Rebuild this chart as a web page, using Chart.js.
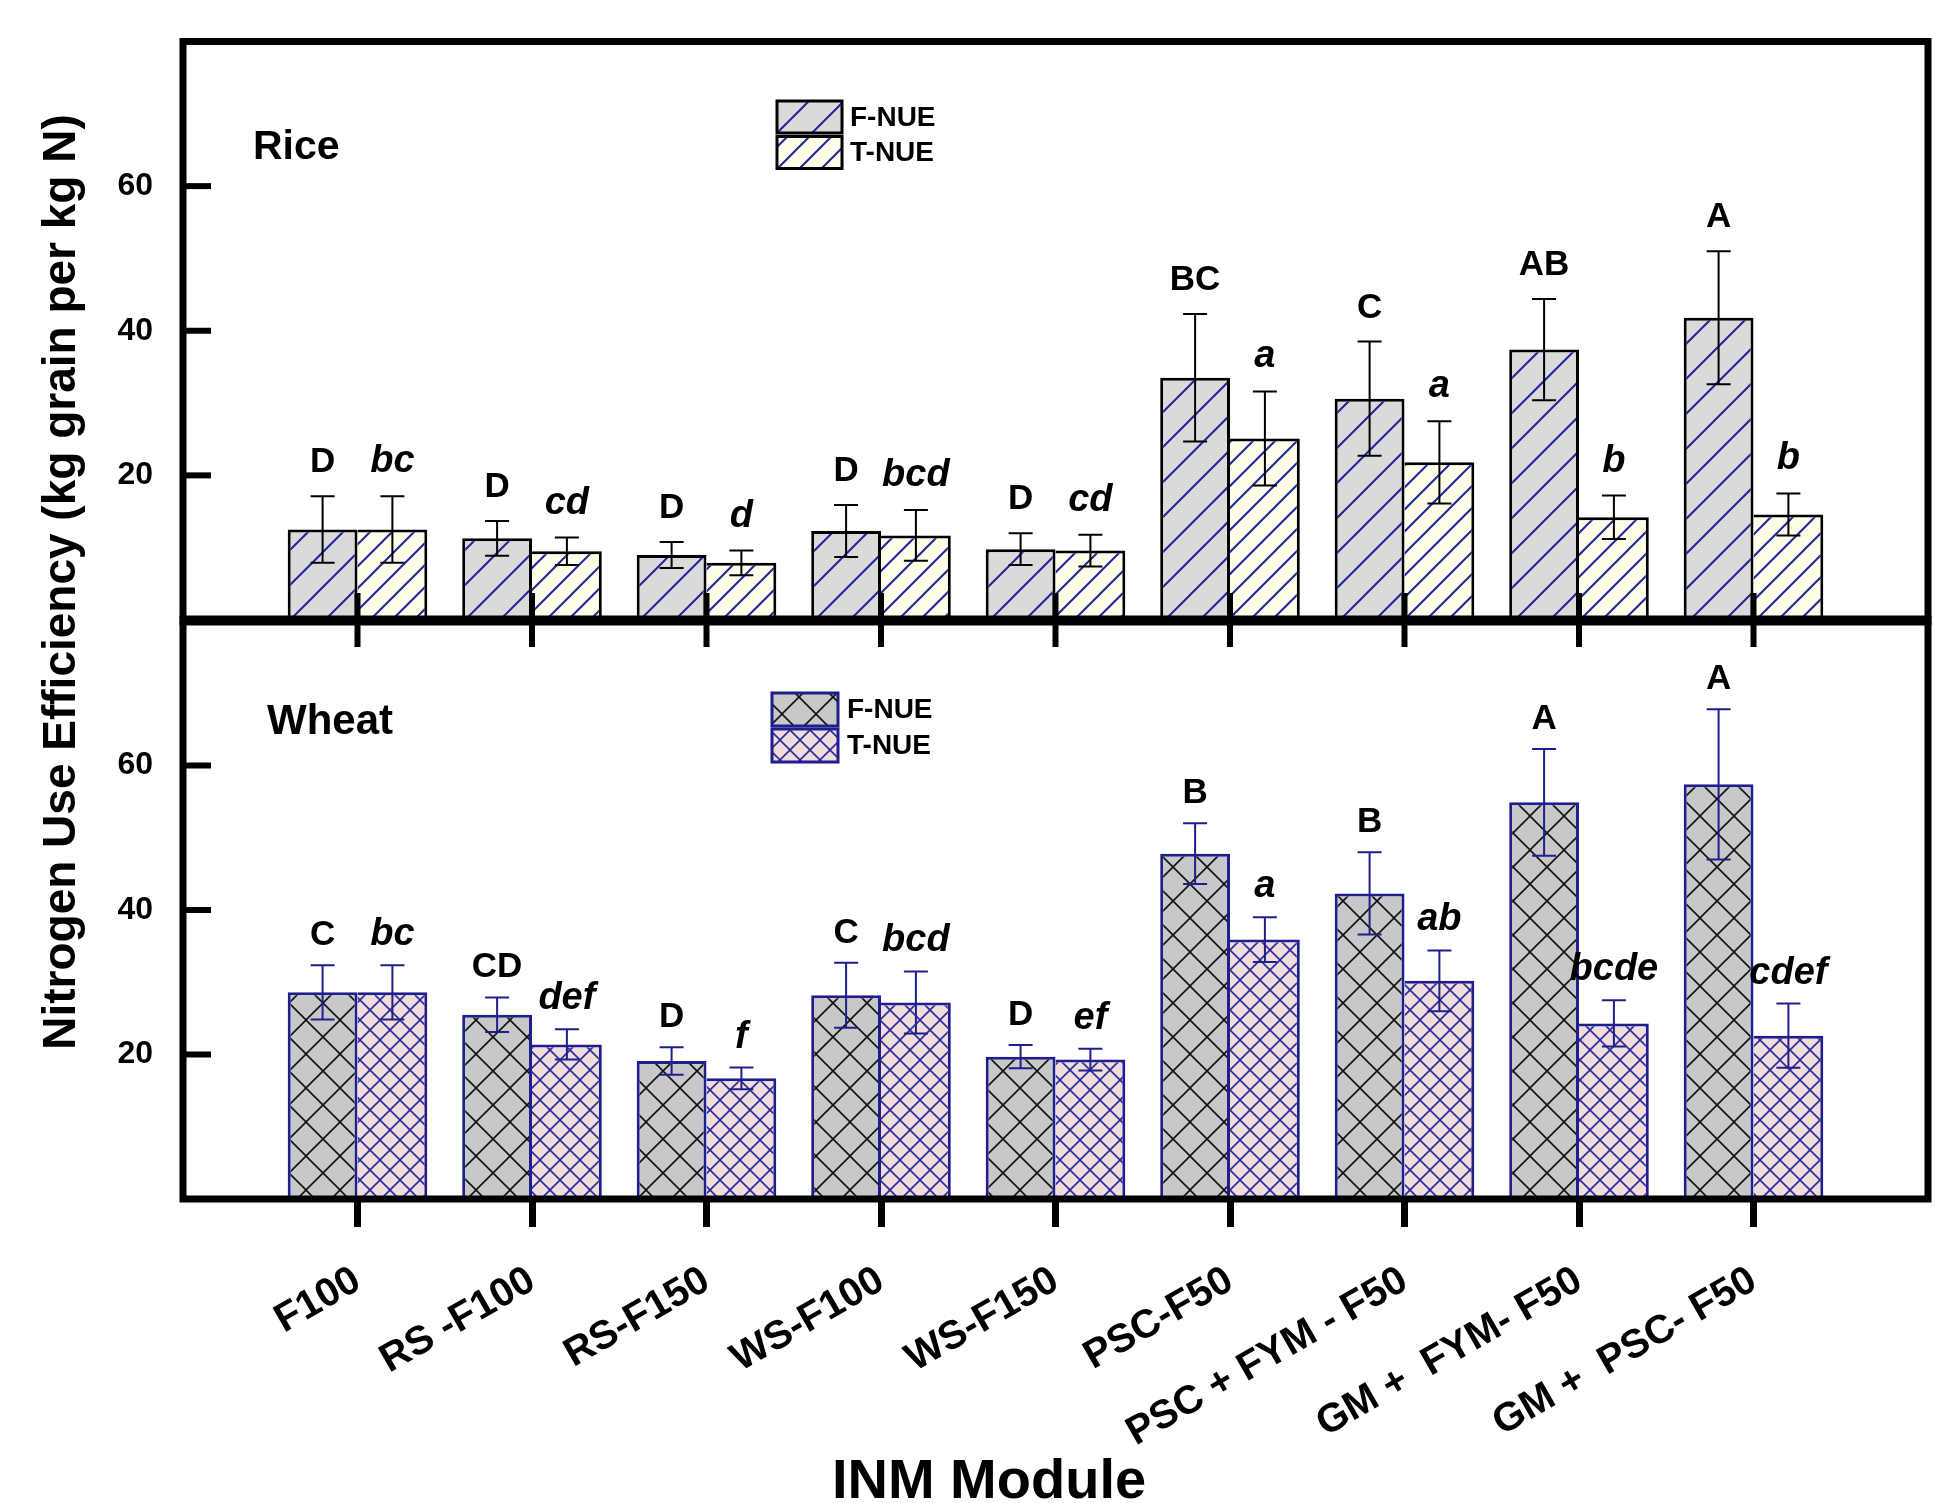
<!DOCTYPE html>
<html><head><meta charset="utf-8">
<script src="https://cdn.jsdelivr.net/npm/chart.js@4.4.1/dist/chart.umd.min.js"></script>
<style>
html,body{margin:0;padding:0;background:#fff;}
#wrap{position:relative;width:1953px;height:1503px;background:#fff;}
canvas{position:absolute;left:0;top:0;}
</style></head><body>
<div id="wrap"><canvas id="cw" width="1953" height="1503"></canvas><canvas id="cr" width="1953" height="1503"></canvas></div>
<script>
// ---------- DATA ----------
const categories = ['F100', 'RS -F100', 'RS-F150', 'WS-F100', 'WS-F150', 'PSC-F50', 'PSC + FYM - F50', 'GM +  FYM- F50', 'GM +  PSC- F50'];
const seriesNames = ['F-NUE', 'T-NUE'];
const yTickValues = [20, 40, 60];

const riceFNUE    = [12.5, 11.3, 9.0, 12.3, 9.8, 33.5, 30.6, 37.4, 41.8];
const riceFNUEErr = [4.6, 2.4, 1.8, 3.6, 2.2, 8.8, 7.9, 7.0, 9.2];
const riceTNUE    = [12.5, 9.5, 7.9, 11.7, 9.6, 25.1, 21.8, 14.2, 14.6];
const riceTNUEErr = [4.6, 1.9, 1.7, 3.5, 2.2, 6.5, 5.7, 3.0, 2.9];
const riceFLetters = ['D', 'D', 'D', 'D', 'D', 'BC', 'C', 'AB', 'A'];
const riceTLetters = ['bc', 'cd', 'd', 'bcd', 'cd', 'a', 'a', 'b', 'b'];

const wheatFNUE    = [28.6, 25.5, 19.1, 28.2, 19.7, 47.8, 42.3, 54.9, 57.4];
const wheatFNUEErr = [3.75, 2.4, 1.9, 4.5, 1.6, 4.2, 5.7, 7.4, 10.4];
const wheatTNUE    = [28.6, 21.4, 16.7, 27.2, 19.3, 35.9, 30.2, 24.3, 22.6];
const wheatTNUEErr = [3.75, 2.1, 1.5, 4.3, 1.5, 3.1, 4.2, 3.2, 4.45];
const wheatFLetters = ['C', 'CD', 'D', 'C', 'D', 'B', 'B', 'A', 'A'];
const wheatTLetters = ['bc', 'def', 'f', 'bcd', 'ef', 'a', 'ab', 'bcde', 'cdef'];

// ---------- helpers ----------
const FONT = '"Liberation Sans", Arial, Helvetica, sans-serif';
const NAVY = '#1e1e8e';
const padL = arr => ['', ...arr, ''];
const padV = arr => [null, ...arr, null];

function hatch(bg, line, p, lw, cross) {
  const c = document.createElement('canvas'); c.width = p; c.height = p;
  const g = c.getContext('2d');
  g.fillStyle = bg; g.fillRect(0, 0, p, p);
  g.strokeStyle = line; g.lineWidth = lw;
  const seg = (x1, y1, x2, y2) => { g.beginPath(); g.moveTo(x1, y1); g.lineTo(x2, y2); g.stroke(); };
  seg(-3, p + 3, p + 3, -3); seg(-3, 3, 3, -3); seg(p - 3, p + 3, p + 3, p - 3);
  if (cross) { seg(-3, -3, p + 3, p + 3); seg(p - 3, -3, p + 3, 3); seg(-3, p - 3, 3, p + 3); }
  return g.createPattern(c, 'repeat');
}
const riceFPat = hatch('#dadada', '#22229a', 35, 2, false);
const riceTPat = hatch('#fdfde8', '#22229a', 22, 2, false);
const wheatFPat = hatch('#c8c8c8', '#111111', 34, 1.6, true);
const wheatTPat = hatch('#f0dcdc', '#2a2a9a', 20, 1.6, true);

const nuePlugin = {
  id: 'nue',
  afterDatasetsDraw(chart) {
    const cfg = chart.options.plugins.nue;
    const ctx = chart.ctx, y = chart.scales.y;
    ctx.save();
    cfg.series.forEach((s, di) => {
      const meta = chart.getDatasetMeta(di);
      s.values.forEach((v, i) => {
        const bar = meta.data[i + 1];
        const x = bar.x, e = s.errors[i];
        const yt = y.getPixelForValue(v + e), yb = y.getPixelForValue(v - e);
        ctx.strokeStyle = cfg.errColor; ctx.lineWidth = 2;
        ctx.beginPath();
        ctx.moveTo(x, yt); ctx.lineTo(x, yb);
        ctx.moveTo(x - 12, yt); ctx.lineTo(x + 12, yt);
        ctx.moveTo(x - 12, yb); ctx.lineTo(x + 12, yb);
        ctx.stroke();
        const lab = s.letters[i];
        const lower = lab === lab.toLowerCase();
        ctx.fillStyle = '#000';
        ctx.font = (lower ? 'italic bold ' + cfg.lowerFont : 'bold ' + cfg.upperFont) + 'px ' + FONT;
        ctx.textAlign = 'center'; ctx.textBaseline = 'alphabetic';
        ctx.fillText(lab, x, yt - cfg.gap);
      });
    });
    ctx.restore();
  },
  afterDraw(chart) {
    const cfg = chart.options.plugins.nue;
    const ctx = chart.ctx, a = chart.chartArea, y = chart.scales.y, xs = chart.scales.x;
    ctx.save();
    ctx.strokeStyle = '#000';
    ctx.lineWidth = 7; ctx.lineJoin = 'miter';
    if (cfg.frame === 'top') {
      ctx.beginPath();
      ctx.moveTo(a.left, a.bottom); ctx.lineTo(a.left, a.top); ctx.lineTo(a.right, a.top); ctx.lineTo(a.right, a.bottom);
      ctx.stroke();
      ctx.lineWidth = 10;
      ctx.beginPath(); ctx.moveTo(a.left - 3.5, a.bottom + 0.5); ctx.lineTo(a.right + 3.5, a.bottom + 0.5); ctx.stroke();
      ctx.lineWidth = 6;
      for (let i = 1; i <= categories.length; i++) {
        const px = xs.getPixelForValue(i);
        ctx.beginPath(); ctx.moveTo(px, a.bottom - 27); ctx.lineTo(px, a.bottom + 27); ctx.stroke();
      }
    } else {
      ctx.beginPath();
      ctx.moveTo(a.left, a.top); ctx.lineTo(a.left, a.bottom); ctx.lineTo(a.right, a.bottom); ctx.lineTo(a.right, a.top);
      ctx.stroke();
    }
    ctx.lineWidth = 6;
    yTickValues.forEach(v => {
      const py = y.getPixelForValue(v);
      ctx.beginPath(); ctx.moveTo(a.left, py); ctx.lineTo(a.left + 28, py); ctx.stroke();
    });
    ctx.fillStyle = '#000'; ctx.textAlign = 'left'; ctx.textBaseline = 'alphabetic';
    ctx.font = 'bold ' + cfg.panelFont + 'px ' + FONT;
    ctx.fillText(cfg.panel, cfg.panelPos[0], cfg.panelPos[1]);
    const [lx, ly] = cfg.legendPos, [bw, bh] = cfg.legendBox;
    chart.data.datasets.forEach((ds, i) => {
      const by = ly + i * (bh + cfg.legendGap);
      ctx.fillStyle = ds.backgroundColor; ctx.fillRect(lx, by, bw, bh);
      ctx.lineWidth = 3; ctx.strokeStyle = cfg.legendBorder; ctx.strokeRect(lx, by, bw, bh);
      ctx.fillStyle = '#000'; ctx.font = 'bold ' + cfg.legendFont + 'px ' + FONT;
      ctx.textBaseline = 'middle'; ctx.textAlign = 'left';
      ctx.fillText(ds.label, cfg.legendTextX, by + bh / 2 + 1);
    });
    if (cfg.axisTitles) {
      ctx.fillStyle = '#000';
      ctx.font = 'bold 46px ' + FONT;
      ctx.textAlign = 'center'; ctx.textBaseline = 'middle';
      ctx.save(); ctx.translate(62, 582); ctx.rotate(-Math.PI / 2);
      ctx.fillText('Nitrogen Use Efficiency (kg grain per kg N)', 0, 0);
      ctx.restore();
      ctx.font = 'bold 56px ' + FONT;
      ctx.fillText('INM Module', 989, 1483);
    }
    ctx.restore();
  }
};

function yScale() {
  return {
    min: 0, max: 80,
    afterFit(s) { s.width = 183; s.paddingTop = 0; s.paddingBottom = 0; },
    grid: { display: false, drawTicks: false },
    border: { display: false },
    ticks: { stepSize: 20, padding: 30, color: '#000',
      font: { family: FONT, size: 32, weight: 'bold' },
      callback: v => yTickValues.includes(v) ? String(v) : '' }
  };
}

function makeChart(id, opts) {
  return new Chart(document.getElementById(id), {
    type: 'bar',
    data: {
      labels: padL(categories),
      datasets: [
        { label: seriesNames[0], data: padV(opts.f), backgroundColor: opts.fPat, borderColor: opts.border,
          borderWidth: { top: 3, left: 3, right: 3, bottom: 0 } },
        { label: seriesNames[1], data: padV(opts.t), backgroundColor: opts.tPat, borderColor: opts.border,
          borderWidth: { top: 3, left: 0, right: 3, bottom: 0 } }
      ]
    },
    options: {
      responsive: false, animation: false, devicePixelRatio: 1,
      layout: { padding: opts.padding },
      datasets: { bar: { categoryPercentage: 0.8, barPercentage: 1.0, borderSkipped: 'start' } },
      scales: { x: opts.x, y: yScale() },
      plugins: { legend: { display: false }, tooltip: { enabled: false }, nue: opts.nue }
    },
    plugins: [nuePlugin]
  });
}

const hideEnds = c => (c.index === 0 || c.index === categories.length + 1) ? 'rgba(0,0,0,0)' : '#000';

// Wheat (bottom, carries x axis)
makeChart('cw', {
  f: wheatFNUE, t: wheatTNUE, fPat: wheatFPat, tPat: wheatTPat, border: NAVY,
  padding: { left: 0, right: 25, top: 621, bottom: 0 },
  x: {
    offset: false,
    afterFit(s) { s.height = 304; s.paddingLeft = 0; s.paddingRight = 0; },
    border: { display: false },
    grid: { offset: false, drawOnChartArea: false, drawTicks: true, tickLength: 28, lineWidth: 7,
      color: hideEnds, tickColor: hideEnds },
    ticks: { autoSkip: false, maxRotation: 30, minRotation: 30, padding: 30, color: '#000',
      font: { family: FONT, size: 40, weight: 'bold' } }
  },
  nue: {
    frame: 'bottom', axisTitles: true, errColor: NAVY, gap: 20, upperFont: 35, lowerFont: 38,
    series: [
      { values: wheatFNUE, errors: wheatFNUEErr, letters: wheatFLetters },
      { values: wheatTNUE, errors: wheatTNUEErr, letters: wheatTLetters }
    ],
    panel: 'Wheat', panelPos: [267, 734], panelFont: 42,
    legendPos: [772, 693], legendBox: [66, 33], legendGap: 3, legendBorder: NAVY, legendTextX: 847, legendFont: 28
  }
});

// Rice (top)
makeChart('cr', {
  f: riceFNUE, t: riceTNUE, fPat: riceFPat, tPat: riceTPat, border: '#000',
  padding: { left: 0, right: 25, top: 41.5, bottom: 883 },
  x: { offset: false, display: false, grid: { offset: false } },
  nue: {
    frame: 'top', axisTitles: false, errColor: '#000', gap: 24, upperFont: 35, lowerFont: 38,
    series: [
      { values: riceFNUE, errors: riceFNUEErr, letters: riceFLetters },
      { values: riceTNUE, errors: riceTNUEErr, letters: riceTLetters }
    ],
    panel: 'Rice', panelPos: [253, 159], panelFont: 41,
    legendPos: [777, 101], legendBox: [65, 32], legendGap: 3.5, legendBorder: '#000', legendTextX: 850, legendFont: 28
  }
});
</script>
</body></html>
